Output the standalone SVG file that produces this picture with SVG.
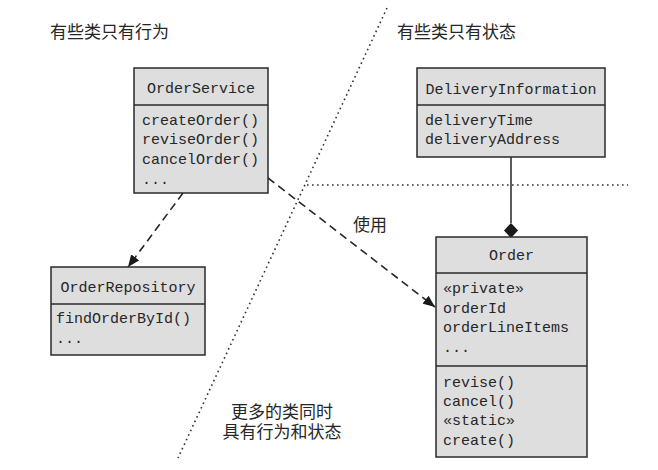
<svg xmlns="http://www.w3.org/2000/svg" width="658" height="470" viewBox="0 0 658 470">
<style>
.box{fill:#dedede;stroke:#2a2a2a;stroke-width:1.5}
.div{stroke:#2a2a2a;stroke-width:1.5}
.mono{font-family:"Liberation Mono","DejaVu Sans Mono",monospace;font-size:15px;fill:#262626}
.ttl{text-anchor:middle}
.cjk{font-family:"Liberation Sans","Noto Sans CJK SC",sans-serif;font-size:17px;fill:#262626}
.dash{fill:none;stroke:#262626;stroke-width:1.6;stroke-dasharray:8 5}
.dot{fill:none;stroke:#333;stroke-width:1.6;stroke-dasharray:1.6 3.4}
.solid{fill:none;stroke:#262626;stroke-width:1.5}
</style>
<defs>
<marker id="arr" viewBox="0 0 12 10" refX="12" refY="5" markerWidth="12" markerHeight="10" markerUnits="userSpaceOnUse" orient="auto">
<path d="M0,0 L12,5 L0,10 Z" fill="#1a1a1a"/>
</marker>
</defs>
<rect width="658" height="470" fill="#ffffff"/>
<g id="regions">
<line class="dot" x1="387" y1="8" x2="178" y2="458"/>
<line class="dot" x1="307" y1="185" x2="628" y2="185"/>
<text class="cjk" x="50" y="38">有些类只有行为</text>
<text class="cjk" x="397" y="38">有些类只有状态</text>
<text class="cjk" x="282" y="418" text-anchor="middle">更多的类同时</text>
<text class="cjk" x="282" y="438" text-anchor="middle">具有行为和状态</text>
</g>
<g id="connectors">
<line class="dash" x1="183" y1="193" x2="128" y2="267" marker-end="url(#arr)"/>
<line class="dash" x1="268" y1="178" x2="435" y2="307" marker-end="url(#arr)"/>
<text class="cjk" x="370" y="231" text-anchor="middle">使用</text>
<line class="solid" x1="511" y1="157" x2="511" y2="223"/>
<path d="M511,223 L518,230.5 L511,238 L504,230.5 Z" fill="#1a1a1a"/>
</g>
<g id="OrderService">
<rect class="box" x="134" y="68" width="134" height="125"/>
<line class="div" x1="134" y1="105" x2="268" y2="105"/>
<text class="mono ttl" x="201" y="93">OrderService</text>
<text class="mono" x="142" y="125">createOrder()</text>
<text class="mono" x="142" y="144">reviseOrder()</text>
<text class="mono" x="142" y="164">cancelOrder()</text>
<text class="mono" x="142" y="184">...</text>
</g>
<g id="DeliveryInformation">
<rect class="box" x="417" y="68" width="188" height="89"/>
<line class="div" x1="417" y1="105" x2="605" y2="105"/>
<text class="mono ttl" x="511" y="94">DeliveryInformation</text>
<text class="mono" x="425" y="125">deliveryTime</text>
<text class="mono" x="425" y="144">deliveryAddress</text>
</g>
<g id="OrderRepository">
<rect class="box" x="51" y="267" width="154" height="88"/>
<line class="div" x1="51" y1="304" x2="205" y2="304"/>
<text class="mono ttl" x="128" y="292">OrderRepository</text>
<text class="mono" x="56" y="323">findOrderById()</text>
<text class="mono" x="56" y="343">...</text>
</g>
<g id="Order">
<rect class="box" x="436" y="237" width="151" height="220"/>
<line class="div" x1="436" y1="273" x2="587" y2="273"/>
<line class="div" x1="436" y1="366" x2="587" y2="366"/>
<text class="mono ttl" x="511.5" y="260">Order</text>
<text class="mono" x="443" y="293">«private»</text>
<text class="mono" x="443" y="313">orderId</text>
<text class="mono" x="443" y="332">orderLineItems</text>
<text class="mono" x="443" y="352">...</text>
<text class="mono" x="443" y="387">revise()</text>
<text class="mono" x="443" y="406">cancel()</text>
<text class="mono" x="443" y="425">«static»</text>
<text class="mono" x="443" y="445">create()</text>
</g>
</svg>
